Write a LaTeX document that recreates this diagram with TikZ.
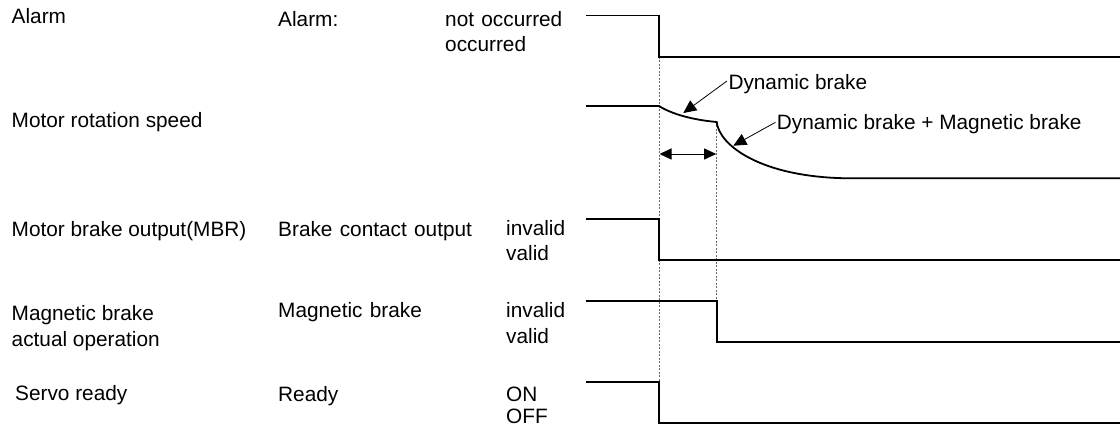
\documentclass[tikz,border=0pt]{standalone}
\usepackage{fontspec}
\setmainfont{Liberation Sans}
\usetikzlibrary{arrows.meta}
\begin{document}
\begin{tikzpicture}[x=1pt,y=-1pt,
  lbl/.style={anchor=base west,inner sep=0pt,font=\fontsize{20.8}{25}\selectfont},
  sig/.style={line width=1.8pt,line join=miter},
  guide/.style={line width=0.6pt,gray!80!black,dash pattern=on 2pt off 1.5pt},
  callout/.style={line width=0.8pt,-{Triangle[length=13pt,width=12pt]}},
  span/.style={line width=0.9pt,{Triangle[length=12pt,width=11pt]}-{Triangle[length=12pt,width=11pt]}}]
\useasboundingbox (0,0) rectangle (1120,427);

% left column labels
\node[lbl] (l1) at (11.5,24) {Alarm};
\node[lbl] (l2) at (11.5,128) {Motor rotation speed};
\node[lbl] (l3) at (11.5,237) {Motor brake output(MBR)};
\node[lbl] (l4a) at (11.5,320.5) {Magnetic brake};
\node[lbl] (l4b) at (11.5,346.5) {actual operation};
\node[lbl] (l5) at (15,400.5) {Servo ready};

% middle column
\node[lbl] (m1) at (278,26.5) {Alarm:};
\node[lbl] (m3) at (278,237) {Brake\hspace{0.35em}contact\hspace{0.35em}output};
\node[lbl] (m4) at (278,317.5) {Magnetic\hspace{0.35em}brake};
\node[lbl] (m5) at (278,401.5) {Ready};

% state column
\node[lbl] (s1a) at (445,26.5) {not\hspace{0.35em}occurred};
\node[lbl] (s1b) at (445,51.5) {occurred};
\node[lbl] (s3a) at (506,236) {invalid};
\node[lbl] (s3b) at (506,261) {valid};
\node[lbl] (s4a) at (506,317.5) {invalid};
\node[lbl] (s4b) at (506,343.5) {valid};
\node[lbl] (s5a) at (506,401.5) {ON};
\node[lbl] (s5b) at (506,424) {OFF};

% guide lines
\coordinate (g0top) at (659,57);
\coordinate (g0bot) at (659,382);
\coordinate (g1top) at (716.7,122);
\coordinate (g1bot) at (716.7,300.7);
\draw[guide] (g0top) -- (g0bot);
\draw[guide] (g1top) -- (g1bot);

% alarm
\draw[sig] (586,15.5) -- (659,15.5) -- (659,57) -- (1120,57);
% motor speed
\draw[sig] (586,106) -- (659,106)
  .. controls (668,112) and (688,119.5) .. (716.7,122)
  .. controls (719,145) and (760,177) .. (847,178.3) -- (1120,178.3);
% MBR
\draw[sig] (586,219.3) -- (659,219.3) -- (659,260) -- (1120,260);
% magnetic brake actual
\draw[sig] (586,300.7) -- (716.7,300.7) -- (716.7,341.7) -- (1120,341.7);
% servo ready
\draw[sig] (586,382.3) -- (659,382.3) -- (659,422.7) -- (1120,422.7);

% callouts
\node[lbl] (db) at (728.3,89.3) {Dynamic brake};
\node[lbl] (dbmb) at (776.7,130) {Dynamic brake + Magnetic brake};
\coordinate (tip1) at (683.3,113);
\coordinate (tip2) at (733.3,145.7);
\coordinate (db0) at (727,81);
\coordinate (dbmb0) at (775.5,122.3);
\draw[callout] (db0) -- (tip1);
\draw[callout] (dbmb0) -- (tip2);

% interval arrow
\coordinate (ia) at (659.5,154);
\coordinate (ib) at (716.2,154);
\draw[span] (ia) -- (ib);
\end{tikzpicture}
\end{document}
